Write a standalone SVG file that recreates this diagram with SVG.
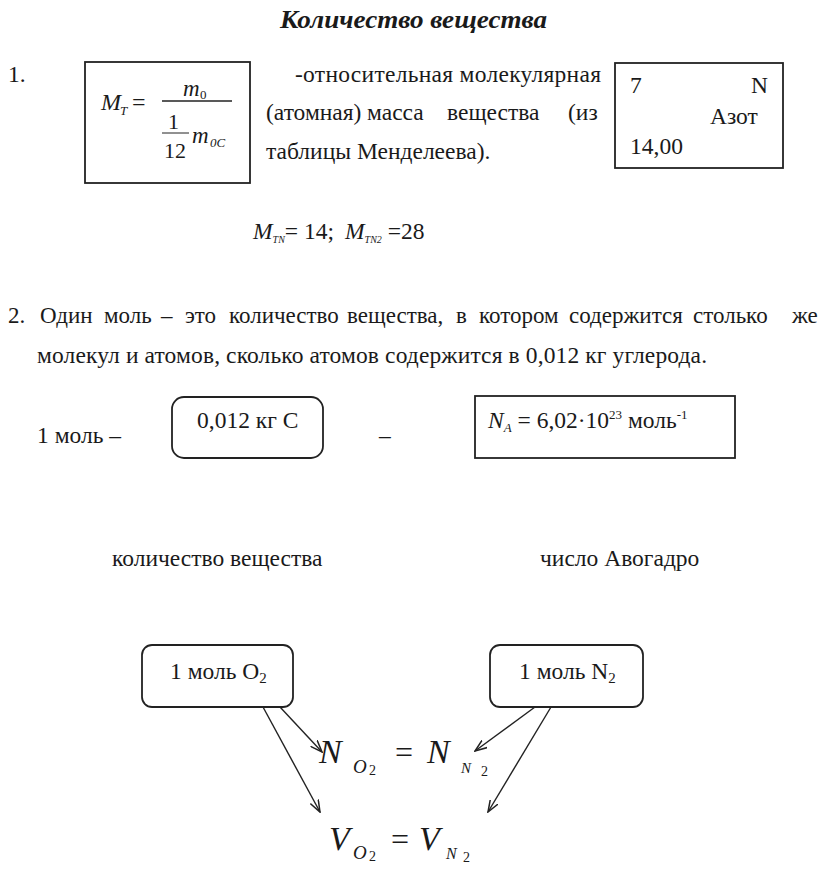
<svg xmlns="http://www.w3.org/2000/svg" width="830" height="878" viewBox="0 0 830 878">
<defs>
<style>
text{font-family:"Liberation Serif","Times New Roman",serif;fill:#1a1a1a}
.t{font-size:23.5px}
.i{font-style:italic}
.box{fill:none;stroke:#222;stroke-width:1.8}
.ln{stroke:#222;stroke-width:1.4;fill:none}
</style>
<marker id="ah" viewBox="0 0 13 10" refX="12" refY="5" markerWidth="13" markerHeight="10" markerUnits="userSpaceOnUse" orient="auto">
<path d="M0,0.5 L12,5 L0,9.5" fill="none" stroke="#222" stroke-width="1.5"/>
</marker>
</defs>
<rect width="830" height="878" fill="#fff"/>
<text x="280" y="28" textLength="267" lengthAdjust="spacingAndGlyphs" style="font-size:26px;font-weight:bold;font-style:italic">Количество вещества</text>

<text class="t" x="8" y="82">1.</text>
<g id="formula-box">
<rect class="box" x="85" y="62" width="165" height="121"/>
<text x="101" y="110" class="i" style="font-size:24px">M</text>
<text x="120" y="115" class="i" style="font-size:13px">T</text>
<text x="132" y="110" style="font-size:24px">=</text>
<line class="ln" x1="162" y1="101" x2="232" y2="101"/>
<text x="183" y="96" class="i" style="font-size:23px">m</text>
<text x="200" y="99" style="font-size:13px">0</text>
<text x="168" y="129" style="font-size:22px">1</text>
<line class="ln" x1="162" y1="133" x2="189" y2="133" style="stroke-width:1"/>
<text x="164" y="158" style="font-size:22px">12</text>
<text x="192" y="143" class="i" style="font-size:23px">m</text>
<text x="210" y="147" class="i" style="font-size:13px">0C</text>
</g>
<text class="t" x="295" y="82" textLength="306" lengthAdjust="spacing">-относительная молекулярная</text>
<text class="t" y="120"><tspan x="266">(атомная)</tspan><tspan x="367">масса</tspan><tspan x="447">вещества</tspan><tspan x="568">(из</tspan></text>
<text class="t" x="266" y="159">таблицы Менделеева).</text>
<g id="element-box">
<rect class="box" x="615" y="63" width="168" height="105"/>
<text x="630" y="93" class="t">7</text>
<text x="751" y="93" class="t">N</text>
<text x="710" y="124" class="t">Азот</text>
<text x="630" y="154" class="t">14,00</text>
</g>

<text y="239" class="t"><tspan x="253" class="i">M</tspan><tspan class="i" style="font-size:10px" dy="4">TN</tspan><tspan dy="-4">= 14;  </tspan><tspan x="345" class="i">M</tspan><tspan class="i" style="font-size:10px" dy="4">TN2</tspan><tspan dy="-4"> =28</tspan></text>

<text class="t" y="323" style="font-size:23px"><tspan x="8">2.</tspan><tspan x="40">Один</tspan><tspan x="104">моль</tspan><tspan x="161">–</tspan><tspan x="185">это</tspan><tspan x="229">количество</tspan><tspan x="347">вещества,</tspan><tspan x="456">в</tspan><tspan x="479">котором</tspan><tspan x="569">содержится</tspan><tspan x="693">столько</tspan><tspan x="792">же</tspan></text>
<text class="t" x="37" y="363" textLength="670" lengthAdjust="spacing">молекул и атомов, сколько атомов содержится в 0,012 кг углерода.</text>

<text class="t" x="37" y="443">1 моль –</text>
<g id="carbon-box">
<rect class="box" x="172" y="397" width="151" height="61" rx="12"/>
<text class="t" x="197" y="428">0,012 кг С</text>
</g>
<text class="t" x="379" y="443">–</text>
<g id="avogadro-box">
<rect class="box" x="475" y="396" width="260" height="62"/>
<text class="t" x="488" y="428"><tspan class="i">N</tspan><tspan class="i" style="font-size:13px" dy="4">A</tspan><tspan dy="-4"> = 6,02·10</tspan><tspan style="font-size:13px" dy="-9">23</tspan><tspan dy="9"> моль</tspan><tspan style="font-size:13px" dy="-9">-1</tspan></text>
</g>

<text class="t" x="112" y="566">количество вещества</text>
<text class="t" x="540" y="566">число Авогадро</text>

<g id="o2-box">
<rect class="box" x="142" y="645" width="151" height="62" rx="10"/>
<text class="t" x="170" y="679">1 моль O<tspan style="font-size:15px" dy="4">2</tspan></text>
</g>
<g id="n2-box">
<rect class="box" x="490" y="645" width="153" height="62" rx="10"/>
<text class="t" x="519" y="679">1 моль N<tspan style="font-size:15px" dy="4">2</tspan></text>
</g>

<g id="eq-n">
<text x="319" y="763" class="i" style="font-size:34px">N</text>
<text x="353" y="773" class="i" style="font-size:19px">O</text>
<text x="369" y="775" style="font-size:14px">2</text>
<text x="395" y="763" style="font-size:32px">=</text>
<text x="427" y="763" class="i" style="font-size:34px">N</text>
<text x="461" y="773" class="i" style="font-size:15px">N</text>
<text x="481" y="776" style="font-size:14px">2</text>
</g>
<g id="eq-v">
<text x="329" y="850" class="i" style="font-size:34px">V</text>
<text x="353" y="859" class="i" style="font-size:19px">O</text>
<text x="369" y="861" style="font-size:14px">2</text>
<text x="391" y="850" style="font-size:32px">=</text>
<text x="419" y="850" class="i" style="font-size:34px">V</text>
<text x="446" y="859" class="i" style="font-size:16px">N</text>
<text x="463" y="862" style="font-size:14px">2</text>
</g>

<g id="connectors">
<line class="ln" x1="280" y1="707" x2="322" y2="752" marker-end="url(#ah)"/>
<line class="ln" x1="263" y1="707" x2="320" y2="812" marker-end="url(#ah)"/>
<line class="ln" x1="535" y1="707" x2="475" y2="751" marker-end="url(#ah)"/>
<line class="ln" x1="551" y1="707" x2="488" y2="812" marker-end="url(#ah)"/>
</g>
</svg>
